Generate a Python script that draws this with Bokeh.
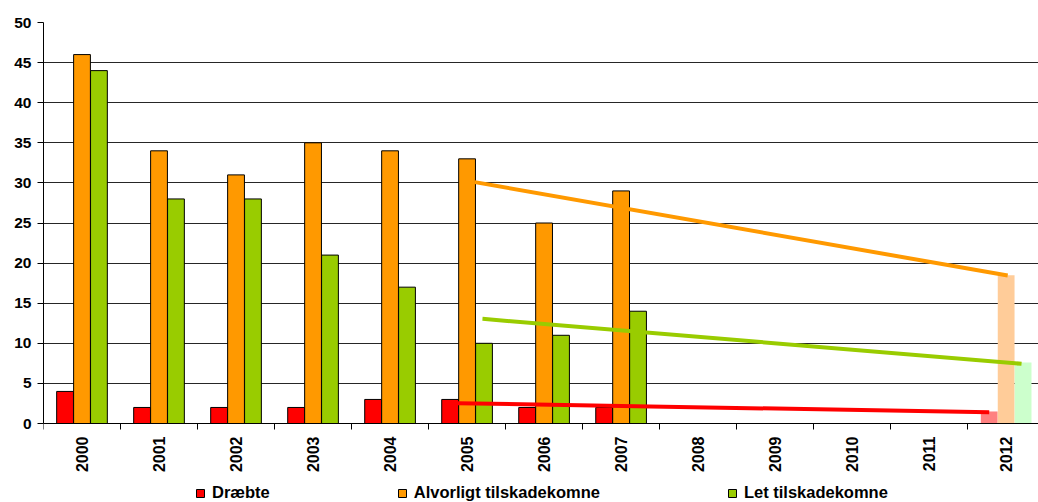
import math
from bokeh.plotting import figure
from bokeh.models import ColumnDataSource, FixedTicker, Range1d, Legend, LegendItem
from bokeh.transform import dodge
from bokeh.embed import file_html
from bokeh.resources import INLINE

# ---- data ----
years = ["2000", "2001", "2002", "2003", "2004", "2005", "2006",
         "2007", "2008", "2009", "2010", "2011", "2012"]
obs_years = ["2000", "2001", "2002", "2003", "2004", "2005", "2006", "2007"]
draebte = [4, 2, 2, 2, 3, 3, 2, 2]
alvorligt = [46, 34, 31, 35, 34, 33, 25, 29]
let_tilskade = [44, 28, 28, 21, 17, 10, 11, 14]

target_year = ["2012"]
target_draebte = [1.5]
target_alvorligt = [18.5]
target_let = [7.6]

trend_years = ["2005", "2012"]
trend_draebte = [2.53, 1.41]
trend_alvorligt = [30.1, 18.45]
trend_let = [13.05, 7.44]

y_ticks = [0, 5, 10, 15, 20, 25, 30, 35, 40, 45, 50]
series_labels = ["Dræbte", "Alvorligt tilskadekomne", "Let tilskadekomne"]

# ---- styling ----
RED, ORANGE, GREEN = "#FF0000", "#FF9900", "#99CC00"
LRED, LORANGE, LGREEN = "#FF8080", "#FFCC99", "#CCFFCC"
FONT = "Liberation Sans"
BW = 0.218
OFF = 0.22
Y_MAX = 50
Y_MIN = -9.85   # room below the axis for the year labels and the legend

pos = {y: i for i, y in enumerate(years)}

obs = ColumnDataSource(dict(x=[pos[y] for y in obs_years],
                            d=draebte, a=alvorligt, l=let_tilskade))
tgt = ColumnDataSource(dict(x=[pos[y] for y in target_year],
                            d=target_draebte, a=target_alvorligt, l=target_let))

p = figure(width=1038, height=502, output_backend="svg", toolbar_location=None,
           x_range=Range1d(-0.5, 12.42), y_range=Range1d(Y_MIN, Y_MAX),
           min_border_left=43, min_border_right=0, min_border_top=22,
           min_border_bottom=0)
p.outline_line_color = None
p.background_fill_color = "white"

r_d = p.vbar(x=dodge("x", -OFF), top="d", width=BW, source=obs,
             fill_color=RED, line_color="black", line_width=1)
r_a = p.vbar(x=dodge("x", 0), top="a", width=BW, source=obs,
             fill_color=ORANGE, line_color="black", line_width=1)
r_l = p.vbar(x=dodge("x", OFF), top="l", width=BW, source=obs,
             fill_color=GREEN, line_color="black", line_width=1)

p.vbar(x=dodge("x", -OFF), top="d", width=BW, source=tgt, fill_color=LRED, line_color=None)
p.vbar(x=dodge("x", 0), top="a", width=BW, source=tgt, fill_color=LORANGE, line_color=None)
p.vbar(x=dodge("x", OFF), top="l", width=BW, source=tgt, fill_color=LGREEN, line_color=None)

t0, t1 = pos[trend_years[0]], pos[trend_years[1]]
p.line([t0 + 0.10, t1 + 0.02], trend_alvorligt, line_color=ORANGE, line_width=4)
p.line([t0 + 0.20, t1 + 0.20], trend_let, line_color=GREEN, line_width=4)
p.line([t0 - 0.12, t1 - 0.22], trend_draebte, line_color=RED, line_width=4)

# axes
xa = p.xaxis[0]
xa.fixed_location = 0
xa.ticker = FixedTicker(ticks=list(range(len(years))),
                        minor_ticks=[i - 0.5 for i in range(len(years) + 1)])
xa.major_label_overrides = {i: y for i, y in enumerate(years)}
xa.major_label_orientation = math.pi / 2
xa.major_tick_out = 0
xa.major_tick_in = 0
xa.minor_tick_out = 6
xa.minor_tick_in = 0
xa.minor_tick_line_color = "black"
xa.axis_line_color = "black"
xa.major_label_standoff = 7
xa.major_label_text_font = FONT
xa.major_label_text_font_style = "bold"
xa.major_label_text_font_size = "16px"
xa.major_label_text_color = "black"

ya = p.yaxis[0]
ya.bounds = (0, Y_MAX)
ya.ticker = FixedTicker(ticks=y_ticks)
ya.major_tick_out = 6
ya.major_tick_in = 0
ya.minor_tick_out = 0
ya.minor_tick_in = 0
ya.axis_line_color = "black"
ya.major_tick_line_color = "black"
ya.major_label_standoff = 6
ya.major_label_text_font = FONT
ya.major_label_text_font_style = "bold"
ya.major_label_text_font_size = "15.5px"
ya.major_label_text_color = "black"

p.xgrid.visible = False
p.ygrid.ticker = FixedTicker(ticks=y_ticks)
p.ygrid.grid_line_color = "black"
p.ygrid.grid_line_alpha = 0.85

legend = Legend(items=[LegendItem(label=series_labels[0], renderers=[r_d]),
                       LegendItem(label=series_labels[1], renderers=[r_a]),
                       LegendItem(label=series_labels[2], renderers=[r_l])],
                location=(152, 0), orientation="horizontal", spacing=127,
                glyph_width=10, glyph_height=10, label_standoff=7,
                label_height=16,
                padding=0, margin=0, border_line_color=None,
                background_fill_alpha=0,
                label_text_font=FONT, label_text_font_style="bold",
                label_text_font_size="16.5px", label_text_color="black")
p.add_layout(legend)

open("out.html", "w").write(file_html(p, INLINE))
